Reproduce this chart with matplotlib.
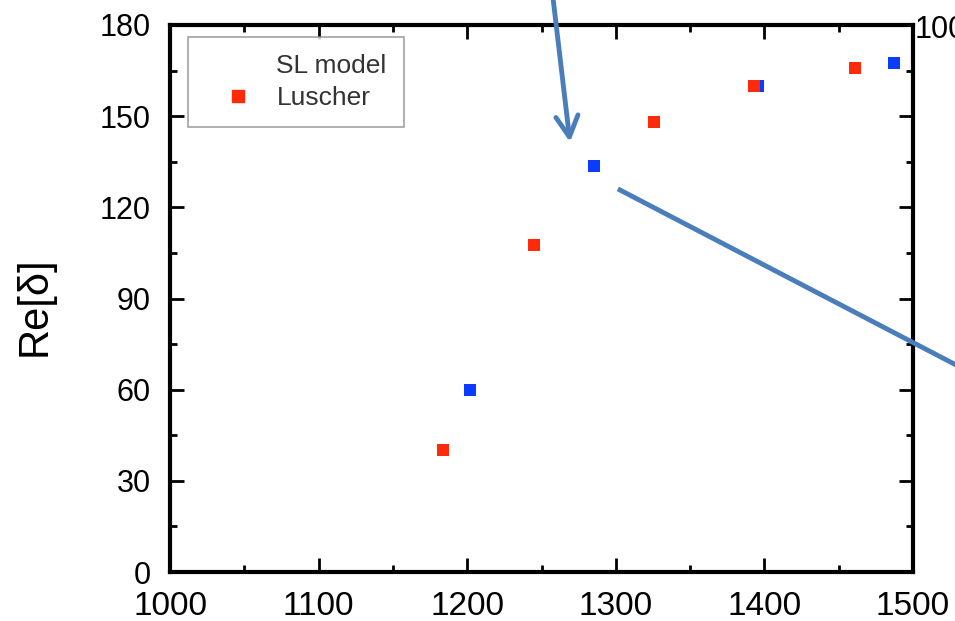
import matplotlib
matplotlib.use("Agg")
import matplotlib.pyplot as plt
from matplotlib.ticker import MultipleLocator
from matplotlib.lines import Line2D
from matplotlib import font_manager

plt.rcParams['font.family'] = ['Liberation Sans', 'DejaVu Sans']

# Luscher phase shifts (red) and SL model points (blue)
luscher_E = [1184, 1245, 1326, 1393, 1461]
luscher_delta = [40, 107.5, 148, 160, 166]
sl_E = [1202, 1285, 1396, 1487]
sl_delta = [60, 133.5, 160, 167.5]

x_ticks = [1000, 1100, 1200, 1300, 1400, 1500]
y_ticks = [0, 30, 60, 90, 120, 150, 180]

# narrow face for the energy labels when one is available
narrow_file = None
for f in font_manager.fontManager.ttflist:
    if 'LiberationSansNarrow-Regular' in f.fname:
        narrow_file = f.fname
        break

fig = plt.figure(figsize=(9.55, 6.21), dpi=100)
ax = fig.add_axes([170 / 955, 1 - 572 / 621, (913 - 170) / 955, (572 - 25) / 621])

ax.scatter(sl_E, sl_delta, marker='s', s=80, color='#0a3cff', zorder=3, linewidths=0)
ax.scatter(luscher_E, luscher_delta, marker='s', s=80, color='#ff2a0a', zorder=4, linewidths=0)

ax.set_xlim(1000, 1500)
ax.set_ylim(0, 180)
ax.set_xticks(x_ticks)
ax.set_yticks(y_ticks)
ax.xaxis.set_minor_locator(MultipleLocator(50))
ax.yaxis.set_minor_locator(MultipleLocator(15))
ax.tick_params(which='both', direction='in', top=True, right=True, width=2)
ax.tick_params(which='major', length=10)
ax.tick_params(which='minor', length=5)
ax.tick_params(axis='y', which='major', labelsize=22, pad=14)
if narrow_file:
    ax.tick_params(axis='x', which='major', labelsize=28, pad=13)
    for lbl in ax.get_xticklabels():
        lbl.set_fontproperties(font_manager.FontProperties(fname=narrow_file, size=28))
else:
    ax.tick_params(axis='x', which='major', labelsize=24, pad=14)
for s in ax.spines.values():
    s.set_linewidth(3)

ax.set_ylabel('Re[\u03b4]', fontsize=30)
ax.yaxis.set_label_coords(-0.155, 0.486)

handles = [
    Line2D([], [], linestyle='none', marker='s', color='white', markersize=9),
    Line2D([], [], linestyle='none', marker='s', color='#ff2a0a', markersize=9),
]
leg = ax.legend(handles, ['SL model', 'Luscher'], loc='upper left',
                bbox_to_anchor=((188 - 170) / 743, 1 - (37 - 25) / 547),
                fontsize=19, frameon=True, fancybox=False, edgecolor='#8a8a8a',
                borderpad=0.65, handletextpad=0.2, labelspacing=0.3,
                borderaxespad=0, handlelength=2.5)
leg.get_frame().set_linewidth(1.2)
for t in leg.get_texts():
    t.set_color('#333333')

# Annotation arrows over the plot
arrow_col = '#4a7ebb'
ax.annotate('', xy=(570, 621 - 142), xycoords='figure pixels',
            xytext=(553, 621 + 2), textcoords='figure pixels',
            arrowprops=dict(arrowstyle='->,head_length=1.5,head_width=0.8',
                            color=arrow_col, lw=3.5, shrinkA=0, shrinkB=0),
            annotation_clip=False)
fig.add_artist(Line2D([620 / 955, 960 / 955], [1 - 190 / 621, 1 - 367 / 621],
                      transform=fig.transFigure, color=arrow_col, linewidth=3.5))

fig.text(915 / 955, 1 - 30 / 621, '100', fontsize=22, va='center', ha='left')

fig.savefig('out.png', dpi=100)
